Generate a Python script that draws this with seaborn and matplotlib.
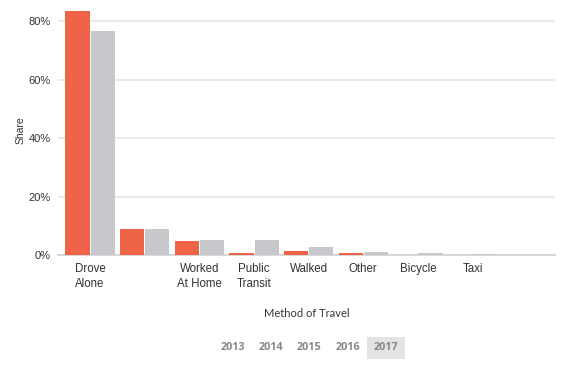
import pandas as pd
import seaborn as sns
from matplotlib import pyplot as plt
from matplotlib.patches import Rectangle
from matplotlib.ticker import FuncFormatter

# share of commuters by method of travel (percent)
methods = ["Drove Alone", "Carpooled", "Worked At Home", "Public Transit",
           "Walked", "Other", "Bicycle", "Taxi", "Motorcycle"]
tick_labels = ["Drove\nAlone", "", "Worked\nAt Home", "Public\nTransit",
               "Walked", "Other", "Bicycle", "Taxi", ""]
local_share = [83.3, 8.8, 4.7, 0.7, 1.4, 0.8, 0.1, 0.05, 0.05]
us_share = [76.5, 8.9, 5.0, 5.0, 2.7, 1.1, 0.7, 0.5, 0.1]
years = ["2013", "2014", "2015", "2016", "2017"]
selected_year = "2017"

data = pd.DataFrame({
    "method": methods * 2,
    "share": local_share + us_share,
    "geo": ["Local"] * len(methods) + ["United States"] * len(methods),
})

sns.set_style("white")
plt.rcParams["font.family"] = ["Liberation Sans", "DejaVu Sans"]

W, H = 561, 366
fig = plt.figure(figsize=(W / 100, H / 100), dpi=100)
ax = fig.add_axes([58 / W, 1 - 255 / H, 497 / W, 250 / H])

sns.barplot(
    data=data, x="method", y="share", hue="geo", order=methods,
    palette=["#EF6348", "#C7C8CC"], width=0.92, gap=0.04, saturation=1,
    linewidth=0, legend=False, ax=ax,
)
for bar in ax.patches:
    bar.set_zorder(3)

ax.set_xlim(-0.588, 8.51)
ax.set_ylim(0, 85.5)
ax.set_yticks([0, 20, 40, 60, 80])
ax.yaxis.set_major_formatter(FuncFormatter(lambda v, _: f"{v:.0f}%"))
ax.set_xticks(range(len(methods)))
ax.set_xticklabels(tick_labels)
ax.grid(axis="y", color="#e4e4e4", linewidth=1.2)
ax.set_axisbelow(True)
for side in ["top", "right", "left"]:
    ax.spines[side].set_visible(False)
ax.spines["bottom"].set_color("#d2d2d2")
ax.spines["bottom"].set_linewidth(1.2)
ax.spines["bottom"].set_zorder(1)
ax.tick_params(axis="y", length=0, pad=5, labelsize=8, labelcolor="#333333")
ax.tick_params(axis="x", length=0, pad=6, labelsize=8.3, labelcolor="#333333")
for t in ax.get_xticklabels():
    t.set_linespacing(1.25)

ax.set_ylabel("Share", fontsize=7.5, color="#333333", labelpad=2)
ax.set_xlabel("Method of Travel", family="Lato", fontsize=8, color="#333333",
              labelpad=13)

# year selector
x0, step = 233, 38.2
for i, yr in enumerate(years):
    cx = x0 + i * step
    if yr == selected_year:
        fig.patches.append(Rectangle(((cx - 19) / W, 1 - 359 / H), 38 / W, 22 / H,
                                     transform=fig.transFigure,
                                     facecolor="#e3e3e3", edgecolor="none"))
    fig.text(cx / W, 1 - 348 / H, yr, ha="center", va="center",
             family=["Open Sans", "Lato"], fontweight="bold", fontsize=7.8,
             color="#888888")

fig.savefig("out.png", dpi=100)
